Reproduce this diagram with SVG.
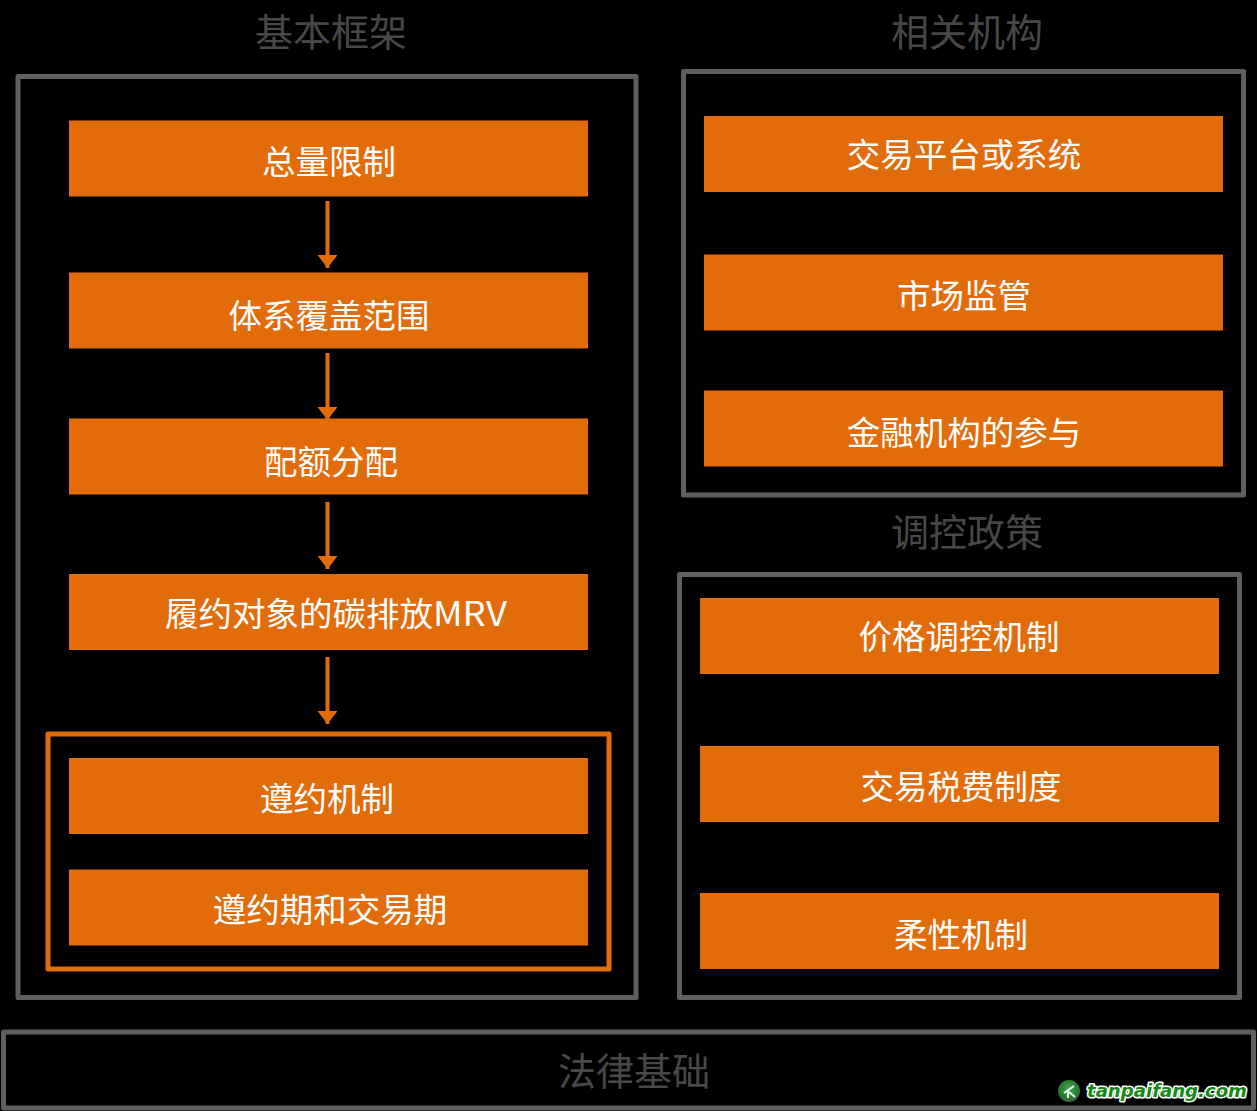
<svg xmlns="http://www.w3.org/2000/svg" width="1257" height="1111" viewBox="0 0 1257 1111">
<defs>
<marker id="ah" markerUnits="userSpaceOnUse" markerWidth="14" markerHeight="21" refX="13.500" refY="10.500" orient="auto"><path d="M0.500 0.500 L13.500 10.500 L0.500 20.500 Z" fill="#e36c0a"/></marker>
<radialGradient id="lg" cx="0.5" cy="0.4" r="0.6"><stop offset="0" stop-color="#4fa34f"/><stop offset="0.75" stop-color="#1f7a2a"/><stop offset="1" stop-color="#555"/></radialGradient>
</defs>
<style>
.frame{fill:none;stroke:#5f5f5f;stroke-width:5;stroke-linejoin:round}
.sel{fill:none;stroke:#e36c0a;stroke-width:5;stroke-linejoin:round}
.box{fill:#e36c0a}
.t{font-family:"Noto Sans CJK SC","Noto Sans",sans-serif;font-size:33.500px;fill:#fff;text-anchor:middle}
.h{font-family:"Noto Sans CJK SC","Noto Sans",sans-serif;font-size:38px;fill:#484848;text-anchor:middle}
.c{fill:none;stroke:#e36c0a;stroke-width:4}
</style>
<rect width="1257" height="1111" fill="#000"/>
<g id="frames">
<rect class="frame" x="18" y="76.500" width="618" height="921"/>
<rect class="frame" x="683.500" y="71.500" width="560" height="423.500"/>
<rect class="frame" x="679.500" y="574.500" width="560" height="423"/>
<rect class="frame" x="3.500" y="1032" width="1250" height="76"/>
<rect class="sel" x="48" y="734" width="561" height="235"/>
</g>
<g id="headings">
<text class="h" x="331" y="46">基本框架</text>
<text class="h" x="967" y="46">相关机构</text>
<text class="h" x="967" y="546">调控政策</text>
<text class="h" x="634" y="1085">法律基础</text>
</g>
<g id="connectors">
<path class="c" d="M327.500 201V268" marker-end="url(#ah)"/>
<path class="c" d="M327.500 353V420" marker-end="url(#ah)"/>
<path class="c" d="M327.500 502V569" marker-end="url(#ah)"/>
<path class="c" d="M327.500 657V724" marker-end="url(#ah)"/>
</g>
<g id="n1"><rect class="box" x="69" y="120.500" width="519" height="76"/><text class="t" x="329" y="174">总量限制</text></g>
<g id="n2"><rect class="box" x="69" y="272.500" width="519" height="76"/><text class="t" x="329" y="328">体系覆盖范围</text></g>
<g id="n3"><rect class="box" x="69" y="418.500" width="519" height="76"/><text class="t" x="331" y="474">配额分配</text></g>
<g id="n4"><rect class="box" x="69" y="574" width="519" height="76"/><text class="t" x="165" y="626" style="text-anchor:start">履约对象的碳排放<tspan textLength="74" lengthAdjust="spacingAndGlyphs">MRV</tspan></text></g>
<g id="n5"><rect class="box" x="69" y="758" width="519" height="76"/><text class="t" x="327" y="811">遵约机制</text></g>
<g id="n6"><rect class="box" x="69" y="869.500" width="519" height="76"/><text class="t" x="330" y="922">遵约期和交易期</text></g>
<g id="n7"><rect class="box" x="704" y="116" width="519" height="76"/><text class="t" x="964" y="167">交易平台或系统</text></g>
<g id="n8"><rect class="box" x="704" y="254.500" width="519" height="76"/><text class="t" x="964" y="308">市场监管</text></g>
<g id="n9"><rect class="box" x="704" y="390.500" width="519" height="76"/><text class="t" x="964" y="445">金融机构的参与</text></g>
<g id="n10"><rect class="box" x="700" y="598" width="519" height="76"/><text class="t" x="959" y="649">价格调控机制</text></g>
<g id="n11"><rect class="box" x="700" y="746" width="519" height="76"/><text class="t" x="961" y="799">交易税费制度</text></g>
<g id="n12"><rect class="box" x="700" y="893" width="519" height="76"/><text class="t" x="961" y="947">柔性机制</text></g>
<g id="watermark">
<circle cx="1069" cy="1091" r="11" fill="url(#lg)"/>
<path d="M1064 1093 L1074 1086 M1068 1090 V1098 M1069 1092 L1075 1097" fill="none" stroke="#e8f2e8" stroke-width="2"/>
<text x="1087" y="1097" font-family="'DejaVu Sans',sans-serif" font-weight="700" font-style="italic" font-size="17" textLength="160" lengthAdjust="spacingAndGlyphs" fill="#168a16" stroke="#fff" stroke-width="3" stroke-linejoin="round" paint-order="stroke">tanpaifang.com</text>
</g>
</svg>
